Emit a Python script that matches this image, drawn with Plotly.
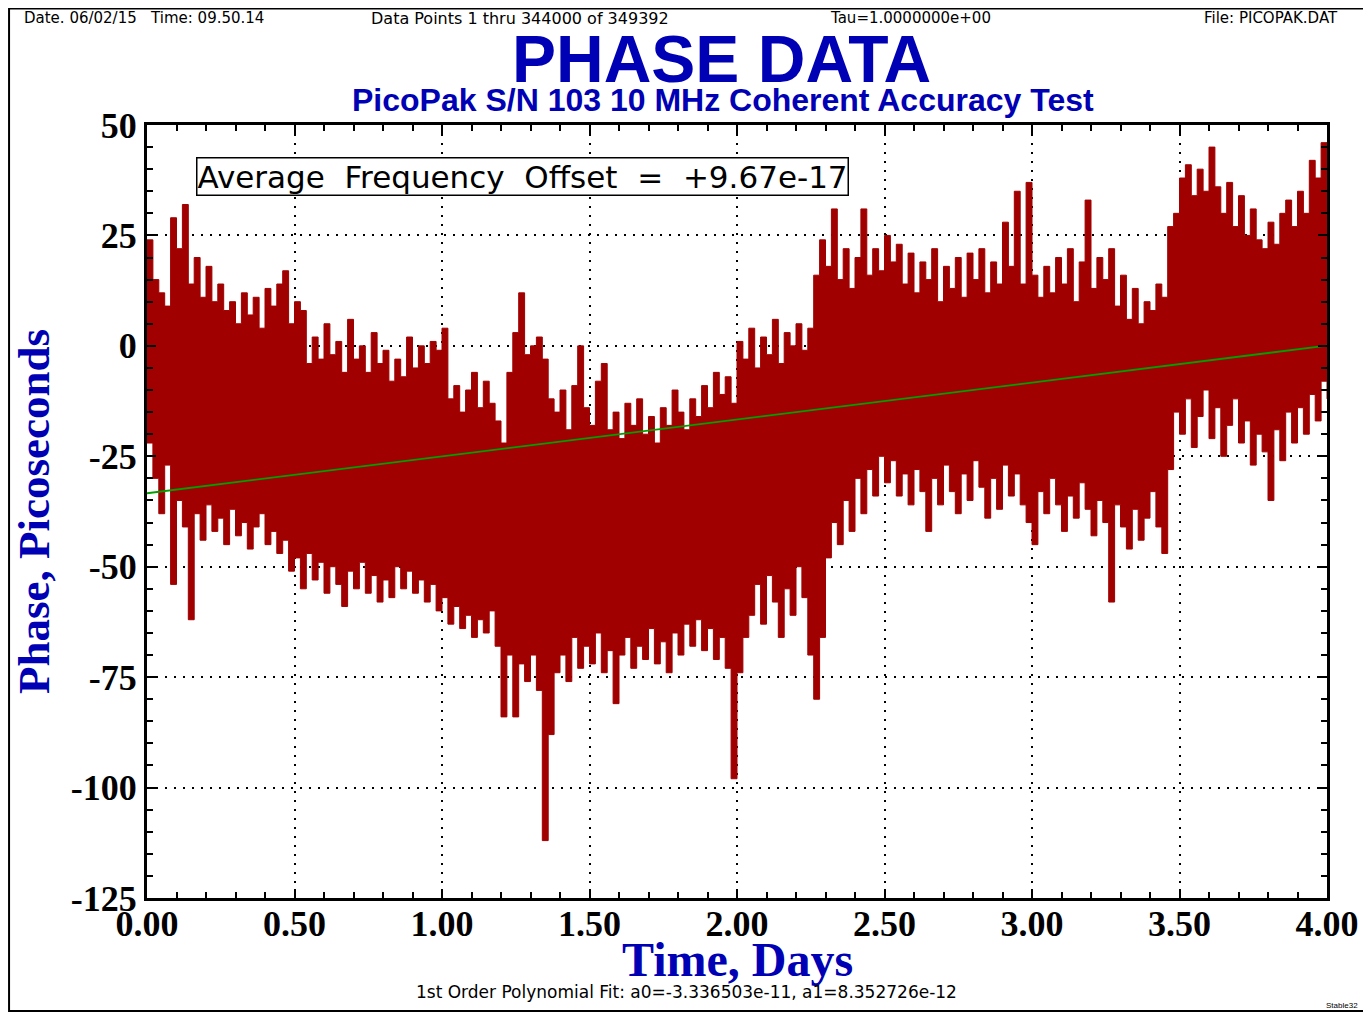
import plotly.graph_objects as go

# ---- data ----
t_step_days = 0.02
upper_ps = [
    24, 15, 12, 9, 29, 22, 32, 14, 20, 11,
    18, 10, 14, 8, 10, 5, 12, 7, 11, 4,
    13, 9, 14, 17, 5, 10, 8, -4, 2, -3,
    5, -2, 1, -6, 6, -3, 0, -6, 3, -4,
    -1, -8, -3, -7, 2, -5, 0, -4, 1, -1,
    4, -12, -9, -15, -10, -6, -14, -8, -13, -17,
    -22, -6, 3, 12, -2, 0, 2, -3, -12, -15,
    -10, -19, -9, 0, -14, -18, -8, -4, -19, -15,
    -21, -13, -18, -12, -20, -16, -22, -14, -18, -10,
    -15, -19, -12, -16, -9, -14, -6, -11, -7, -13,
    1, -3, 4, -5, 2, -2, 6, -4, 3, 0,
    5, -1, 4, 16, 24, 18, 31, 15, 22, 13,
    20, 31, 16, 22, 17, 25, 19, 23, 14, 21,
    12, 19, 15, 22, 10, 18, 13, 20, 11, 21,
    15, 22, 12, 19, 14, 28, 18, 35, 14, 37,
    16, 11, 18, 12, 20, 14, 22, 10, 19, 33,
    13, 20, 15, 22, 9, 16, 6, 13, 5, 10,
    8, 14, 11, 27, 30, 38, 41, 34, 40, 35,
    45, 36, 30, 37, 27, 34, 25, 31, 24, 22,
    28, 23, 30, 33, 27, 35, 30, 42, 38, 46,
    35,
]
lower_ps = [
    -22, -30, -38, -27, -54, -35, -41, -62, -38, -44,
    -36, -42, -39, -45, -37, -43, -40, -46, -41, -38,
    -45, -42, -47, -44, -51, -48, -55, -47, -53, -49,
    -56, -50, -54, -59, -51, -55, -49, -56, -52, -58,
    -53, -57, -50, -55, -51, -56, -53, -58, -54, -60,
    -57, -63, -59, -64, -61, -66, -62, -65, -60, -68,
    -84, -70, -84, -72, -76, -70, -78, -112, -88, -74,
    -70, -76, -66, -73, -68, -72, -65, -74, -69, -81,
    -70, -66, -73, -68, -71, -64, -72, -67, -74, -65,
    -70, -63, -68, -62, -69, -64, -71, -66, -73, -98,
    -74, -66, -61, -54, -63, -52, -58, -66, -55, -61,
    -50, -57, -70, -80, -66, -48, -40, -45, -35, -42,
    -30, -38, -28, -34, -25, -31, -26, -34, -29, -36,
    -28, -33, -42, -30, -36, -27, -33, -38, -29, -35,
    -26, -32, -39, -30, -37, -27, -34, -29, -36, -40,
    -45, -33, -38, -30, -36, -42, -34, -39, -31, -37,
    -43, -35, -40, -58, -36, -41, -46, -37, -44, -39,
    -33, -41, -47, -28, -15, -20, -12, -23, -16, -10,
    -21, -14, -25, -18, -12, -22, -17, -27, -20, -24,
    -35, -19, -26, -15, -22, -14, -20, -11, -17, -8,
    -12,
]
time_days = [round(i * t_step_days, 4) for i in range(len(upper_ps))]

# 1st order polynomial fit coefficients (seconds, seconds/day)
fit_a0 = -3.336503e-11
fit_a1 = 8.352726e-12
fit_t = [0.0, 4.0]
fit_ps = [(fit_a0 + fit_a1 * t) * 1e12 for t in fit_t]

x_ticks = [0.0, 0.5, 1.0, 1.5, 2.0, 2.5, 3.0, 3.5, 4.0]
x_tick_text = ["0.00", "0.50", "1.00", "1.50", "2.00", "2.50", "3.00",
               "3.50", "4.00"]
y_ticks = [50, 25, 0, -25, -50, -75, -100, -125]
y_tick_text = ["50", "25", "0", "-25", "-50", "-75", "-100", "-125"]

RED = "#A00000"
BLUE = "#0000B4"
SERIF = "Liberation Serif, Times New Roman, serif"
SANS = "Liberation Sans, Arial, sans-serif"
STROKE = "DejaVu Sans, sans-serif"

fig = go.Figure()
fig.add_trace(go.Scatter(x=time_days, y=lower_ps, mode="lines",
                         line=dict(color=RED, width=1, shape="hv"),
                         showlegend=False, hoverinfo="skip"))
fig.add_trace(go.Scatter(x=time_days, y=upper_ps, mode="lines",
                         line=dict(color=RED, width=1, shape="hv"),
                         fill="tonexty", fillcolor=RED, showlegend=False,
                         hoverinfo="skip"))
fig.add_trace(go.Scatter(x=fit_t, y=fit_ps, mode="lines",
                         line=dict(color="#00A000", width=1.8),
                         showlegend=False))

axis_common = dict(
    showline=True, linecolor="black", linewidth=3, mirror="ticks",
    ticks="inside", ticklen=9, tickwidth=1.5, tickcolor="black",
    showgrid=True, gridcolor="black", griddash="2px,7px", gridwidth=1.5,
    zeroline=False, automargin=False,
    tickfont=dict(family=SERIF, size=36, color="black", weight="bold"),
)

fig.update_xaxes(range=[0, 4], tickvals=x_ticks, ticktext=x_tick_text,
                 ticklabelstandoff=-8,
                 minor=dict(dtick=0.1, ticks="inside", ticklen=6,
                            tickcolor="black", showgrid=False),
                 **axis_common)
fig.update_yaxes(range=[-125, 50], tickvals=y_ticks, ticktext=y_tick_text,
                 minor=dict(dtick=5, ticks="inside", ticklen=6,
                            tickcolor="black", showgrid=False),
                 title=dict(text="Phase, Picoseconds", standoff=8,
                            font=dict(family=SERIF, size=45, color=BLUE,
                                      weight="bold")),
                 **axis_common)


def note(text, x, y, xanchor, font, **kw):
    return dict(text=text, x=x, y=y, xref="paper", yref="paper",
                xanchor=xanchor, yanchor="middle", showarrow=False,
                font=font, **kw)


annotations = [
    note("PHASE DATA", 0.487, 1.086, "center",
         dict(family=SANS, size=66, color=BLUE, weight="bold")),
    note("PicoPak S/N 103 10 MHz Coherent Accuracy Test", 0.488, 1.032,
         "center", dict(family=SANS, size=32, color=BLUE, weight="bold")),
    note("Date. 06/02/15   Time: 09.50.14", -0.106, 1.138, "left",
         dict(family=STROKE, size=15, color="black")),
    note("Data Points 1 thru 344000 of 349392", 0.188, 1.138, "left",
         dict(family=STROKE, size=16, color="black")),
    note("Tau=1.0000000e+00", 0.577, 1.138, "left",
         dict(family=STROKE, size=15, color="black")),
    note("File: PICOPAK.DAT", 1.011, 1.138, "right",
         dict(family=STROKE, size=15, color="black")),
    note("Time, Days", 0.5, -0.0802, "center",
         dict(family=SERIF, size=48, color=BLUE, weight="bold")),
    note("1st Order Polynomial Fit: a0=-3.336503e-11, a1=8.352726e-12",
         0.457, -0.1216, "center",
         dict(family=STROKE, size=17, color="black")),
    note("Stable32", 1.028, -0.1397, "right",
         dict(family=SANS, size=8, color="black")),
    note("Average  Frequency  Offset  =  +9.67e-17", 0.0415, 0.934, "left",
         dict(family=STROKE, size=31, color="black"),
         bordercolor="black", borderwidth=1.5, borderpad=0,
         bgcolor="white"),
]

# the page body adds an 8px offset, so the figure is 8px smaller
fig.update_layout(
    width=1363, height=1005,
    margin=dict(l=139, r=44, t=117, b=115),
    paper_bgcolor="white", plot_bgcolor="white",
    annotations=annotations,
    shapes=[dict(type="rect", xref="paper", yref="paper",
                 x0=-0.1169, x1=1.0331, y0=-0.1462, y1=1.1507,
                 line=dict(color="black", width=2))],
)

fig.write_html("out.html")
